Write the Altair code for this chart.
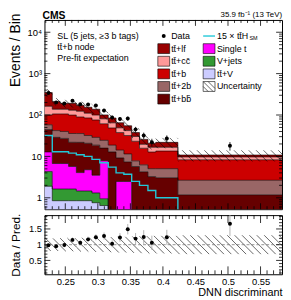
import math
import altair as alt
import numpy as np
import pandas as pd

# ---------------- values ----------------
edges = [0.218, 0.230, 0.242, 0.255, 0.267, 0.279, 0.291, 0.303, 0.316,
         0.328, 0.340, 0.352, 0.364, 0.377, 0.389, 0.423, 0.583]
ttV     = [1.9, 0.85, 0.85, 0.85, 0.85, 0.85, 0.76, 0.65, 0.2, 0.22, 0.22, 0.22, 0.2, 0.2, 0.2, 0.17]
vjets   = [2.4, 0.78, 0.78, 0.78, 0.61, 0.61, 0.55, 0.3, 0.15, 0.16, 0.16, 0.16, 0.1, 0.1, 0.1, 0.05]
singlet = [8.5, 5.1, 5.1, 4.1, 2.6, 3.3, 2.2, 6.9, 0.03, 2.1, 2.1, 0.02, 0.05, 0.05, 0.05, 0.07]
ttbb    = [31.6, 22.1, 20.5, 16.2, 17.8, 16.0, 15.2, 8.0, 12.4, 6.7, 4.9, 5.3, 3.9, 2.9, 2.7, 0.89]
tt2b    = [13.6, 13.2, 12.8, 13.8, 13.8, 11.2, 10.1, 8.6, 5.9, 5.0, 4.1, 2.1, 2.0, 1.8, 2.0, 1.47]
ttb     = [42, 64, 66, 64, 54, 53, 47, 37, 30, 23.5, 20.5, 15.4, 9.5, 7.7, 8.4, 5.65]
ttcc    = [63, 32, 32, 31, 34, 26, 24, 19.5, 16, 11.3, 10, 7.2, 3.9, 3.9, 3.2, 1.4]
ttlf    = [185, 75, 54, 61, 48, 43, 38, 19.5, 20, 16, 13, 7.3, 6.1, 4.1, 5.2, 1.1]
tth15   = [32, 13, 13, 12, 11, 10, 8.5, 7, 5.5, 4, 3.7, 2.5, 2.0, 1.5, 1.0, 0.3]
data    = [341, 202, 190, 221, 182, 180, 170, 128, 87, 80, 82, 45, 32, 22, 27, 18]
unc     = [0.20, 0.20, 0.21, 0.21, 0.22, 0.22, 0.23, 0.23, 0.24, 0.25, 0.25, 0.26, 0.27, 0.28, 0.28, 0.30]

order = ["ttV", "vjets", "singlet", "ttbb", "tt2b", "ttb", "ttcc", "ttlf"]
series = dict(ttV=ttV, vjets=vjets, singlet=singlet, ttbb=ttbb, tt2b=tt2b,
              ttb=ttb, ttcc=ttcc, ttlf=ttlf)
colors = dict(ttV="#ccccff", vjets="#339933", singlet="#ff00ff", ttbb="#660000",
              tt2b="#996666", ttb="#cc0000", ttcc="#ff9999", ttlf="#990000")
CYAN = "#22c8d8"
TT = "tt\u0304"

# ---------------- layout ----------------
W, HM, HR = 241, 192, 60
XMIN, XMAX = 0.218, 0.583
YMIN, YMAX = 0.53, 19800.0
RMIN, RMAX = 0.06, 1.94
FONT = "Liberation Sans"
LFS = 9

nb = len(edges) - 1
centers = [(edges[i] + edges[i + 1]) / 2 for i in range(nb)]

rows = []
cum = np.zeros(nb)
for c in order:
    lo = cum.copy()
    cum = cum + np.array(series[c], dtype=float)
    for i in range(nb + 1):
        j = min(i, nb - 1)
        rows.append(dict(comp=c, x=edges[i], lo=max(lo[j], 1e-3), hi=cum[j]))
df_step = pd.DataFrame(rows)
total = cum.copy()

df_tth = pd.DataFrame(dict(x=edges, v=tth15 + [tth15[-1]]))

data_a = np.array(data, dtype=float)
err = np.sqrt(data_a)
df_pts = pd.DataFrame(dict(x=centers, d=data_a, dlo=data_a - err, dhi=data_a + err,
                           r=data_a / total, rlo=(data_a - err) / total,
                           rhi=(data_a + err) / total))

def xpx(v):
    return (v - XMIN) / (XMAX - XMIN) * W

def xinv(p):
    return XMIN + p / W * (XMAX - XMIN)

LMIN, LMAX = math.log10(YMIN), math.log10(YMAX)

def ypx_m(v):
    return (LMAX - math.log10(v)) / (LMAX - LMIN) * HM

def yinv_m(p):
    return 10 ** (LMAX - p / HM * (LMAX - LMIN))

def ypx_r(v):
    return (RMAX - v) / (RMAX - RMIN) * HR

def yinv_r(p):
    return RMAX - p / HR * (RMAX - RMIN)

def hatch(lo, hi, ypx, yinv, H, s=7.5):
    segs = []
    for i in range(nb):
        xa, xb = xpx(edges[i]), xpx(edges[i + 1])
        yt, yb = max(ypx(hi[i]), 0.0), min(ypx(lo[i]), H)
        kmin = math.ceil((xa - yb) / s)
        kmax = math.floor((xb - yt) / s)
        for k in range(kmin, kmax + 1):
            c = k * s
            xs = max(xa, yt + c)
            xe = min(xb, yb + c)
            if xe - xs > 0.4:
                segs.append(dict(x=xinv(xs), x2=xinv(xe), y=yinv(xs - c), y2=yinv(xe - c)))
    return pd.DataFrame(segs)

unc_a = np.array(unc)
df_hm = hatch(total * (1 - unc_a), total * (1 + unc_a), ypx_m, yinv_m, HM)
df_hr = hatch(1 - unc_a, 1 + unc_a, ypx_r, yinv_r, HR)

xsc = alt.Scale(domain=[XMIN, XMAX], nice=False, zero=False)
ysc = alt.Scale(type="log", domain=[YMIN, YMAX], nice=False)
rsc = alt.Scale(domain=[RMIN, RMAX], nice=False, zero=False)

y_axis = alt.Axis(values=[1, 10, 100, 1000, 10000],
                  labelExpr="datum.value == 1 ? '1' : datum.value == 10 ? '10' : datum.value == 100 ? '10\u00b2' : datum.value == 1000 ? '10\u00b3' : '10\u2074'",
                  title="Events / Bin", titleX=-25, titleY=-7, titleAlign="right",
                  titleAngle=270, titleBaseline="alphabetic", titleFontSize=14,
                  labelFontSize=9.5, labelPadding=3)
r_axis = alt.Axis(values=[0.5, 1, 1.5], format="~g", title="Data / Pred.",
                  titleX=-25, titleY=HR / 2, titleAlign="center", titleAngle=270,
                  titleBaseline="alphabetic", titleFontSize=12,
                  labelFontSize=9.5, labelPadding=3)
x_axis_r = alt.Axis(values=[0.25, 0.3, 0.35, 0.4, 0.45, 0.5, 0.55], format="~g",
                    title="DNN discriminant", titleX=W, titleY=22, titleAlign="right",
                    titleAnchor="end", titleBaseline="alphabetic", titleFontSize=11,
                    labelFontSize=9.5, labelPadding=2)

def XM(f):
    return alt.X(f"{f}:Q", scale=xsc, axis=None)

def YM(f):
    return alt.Y(f"{f}:Q", scale=ysc, axis=y_axis, stack=None)

def XR(f):
    return alt.X(f"{f}:Q", scale=xsc, axis=x_axis_r)

def YR(f):
    return alt.Y(f"{f}:Q", scale=rsc, axis=r_axis, stack=None)

def ticks(X, Y, H, xmaj, xmin_, ymaj, ymin_, lx, ly):
    out = []
    for vals, L in ((xmaj, lx[0]), (xmin_, lx[1])):
        base = alt.Chart(pd.DataFrame({"t": vals})).mark_rule(color="black", strokeWidth=0.8)
        out.append(base.encode(x=X("t"), y=alt.value(H), y2=alt.value(H - L)))
        out.append(base.encode(x=X("t"), y=alt.value(0), y2=alt.value(L)))
    for vals, L in ((ymaj, ly[0]), (ymin_, ly[1])):
        base = alt.Chart(pd.DataFrame({"t": vals})).mark_rule(color="black", strokeWidth=0.8)
        out.append(base.encode(y=Y("t"), x=alt.value(0), x2=alt.value(L)))
        out.append(base.encode(y=Y("t"), x=alt.value(W), x2=alt.value(W - L)))
    return out

xmaj = [0.25, 0.3, 0.35, 0.4, 0.45, 0.5, 0.55]
xmin_ = [round(0.22 + 0.01 * k, 2) for k in range(37)]
xmin_ = [v for v in xmin_ if XMIN <= v <= XMAX and v not in xmaj]
ymaj = [1, 10, 100, 1000, 10000]
ymin_ = [k * 10 ** d for d in range(-1, 5) for k in range(2, 10) if YMIN <= k * 10 ** d <= YMAX]
rmaj = [0.5, 1.0, 1.5]
rmin_ = [round(0.1 * k, 1) for k in range(1, 20)]
rmin_ = [v for v in rmin_ if v not in rmaj]

area = alt.Chart(df_step).mark_area(interpolate="step-after", opacity=1, clip=True).encode(
    x=XM("x"), y=YM("lo"), y2="hi",
    color=alt.Color("comp:N", scale=alt.Scale(domain=order, range=[colors[c] for c in order]),
                    legend=None))
outline = alt.Chart(df_step).mark_line(interpolate="step-after", color="black",
                                       strokeWidth=0.6, clip=True).encode(
    x=XM("x"), y=YM("hi"), detail="comp:N")
tth_line = alt.Chart(df_tth).mark_line(interpolate="step-after", color=CYAN,
                                       strokeWidth=1.4, clip=True).encode(x=XM("x"), y=YM("v"))
hatch_m = alt.Chart(df_hm).mark_rule(color="black", strokeWidth=0.6, clip=True).encode(
    x=XM("x"), x2="x2", y=YM("y"), y2="y2")
ebar_m = alt.Chart(df_pts).mark_rule(color="black", strokeWidth=0.8, clip=True).encode(
    x=XM("x"), y=YM("dlo"), y2="dhi")
pts_m = alt.Chart(df_pts).mark_circle(color="black", size=16, opacity=1, clip=True).encode(
    x=XM("x"), y=YM("d"))

rowy = [16.3, 29.1, 41.9, 54.7, 67.5, 80.3]
leg_box = pd.DataFrame([
    dict(a=115, b=127, c=rowy[1] - 5, d=rowy[1] + 5, col=colors["ttlf"]),
    dict(a=115, b=127, c=rowy[2] - 5, d=rowy[2] + 5, col=colors["ttcc"]),
    dict(a=115, b=127, c=rowy[3] - 5, d=rowy[3] + 5, col=colors["ttb"]),
    dict(a=115, b=127, c=rowy[4] - 5, d=rowy[4] + 5, col=colors["tt2b"]),
    dict(a=115, b=127, c=rowy[5] - 5, d=rowy[5] + 5, col=colors["ttbb"]),
    dict(a=161, b=173, c=rowy[1] - 5, d=rowy[1] + 5, col=colors["singlet"]),
    dict(a=161, b=173, c=rowy[2] - 5, d=rowy[2] + 5, col=colors["vjets"]),
    dict(a=161, b=173, c=rowy[3] - 5, d=rowy[3] + 5, col=colors["ttV"]),
    dict(a=161, b=173, c=rowy[4] - 5, d=rowy[4] + 5, col="#ffffff"),
])
leg_rect = alt.Chart(leg_box).mark_rect(stroke="black", strokeWidth=0.6).encode(
    x=alt.X("a:Q", scale=None), x2="b:Q", y=alt.Y("c:Q", scale=None), y2="d:Q",
    fill=alt.Color("col:N", scale=None))
leg_hatch = alt.Chart(pd.DataFrame([
    dict(a=161, b=171, c=rowy[4] - 5, d=rowy[4] + 5),
    dict(a=166, b=173, c=rowy[4] - 5, d=rowy[4] + 2),
    dict(a=161, b=166, c=rowy[4], d=rowy[4] + 5),
])).mark_rule(color="black", strokeWidth=0.6).encode(
    x=alt.X("a:Q", scale=None), x2="b:Q", y=alt.Y("c:Q", scale=None), y2="d:Q")
leg_line = alt.Chart(pd.DataFrame([dict(a=161, b=173, c=rowy[0])])).mark_rule(
    color=CYAN, strokeWidth=1.4).encode(
    x=alt.X("a:Q", scale=None), x2="b:Q", y=alt.Y("c:Q", scale=None))
leg_dot = alt.Chart(pd.DataFrame([dict(a=121, c=rowy[0])])).mark_circle(
    color="black", size=16, opacity=1).encode(
    x=alt.X("a:Q", scale=None), y=alt.Y("c:Q", scale=None))
leg_txt = pd.DataFrame([
    dict(a=128.5, c=rowy[0], t="Data"),
    dict(a=128.5, c=rowy[1], t=TT + "+lf"),
    dict(a=128.5, c=rowy[2], t=TT + "+cc\u0304"),
    dict(a=128.5, c=rowy[3], t=TT + "+b"),
    dict(a=128.5, c=rowy[4], t=TT + "+2b"),
    dict(a=128.5, c=rowy[5], t=TT + "+bb\u0304"),
    dict(a=175, c=rowy[0], t="15 \u00d7 " + TT + "H"),
    dict(a=175, c=rowy[1], t="Single t"),
    dict(a=175, c=rowy[2], t="V+jets"),
    dict(a=175, c=rowy[3], t=TT + "+V"),
    dict(a=175, c=rowy[4], t="Uncertainty"),
    dict(a=13, c=16.3, t="SL (5 jets, \u22653 b tags)"),
    dict(a=13, c=27.6, t=TT + "+b node"),
    dict(a=13, c=38.9, t="Pre-fit expectation"),
])
leg_text = alt.Chart(leg_txt).mark_text(align="left", baseline="middle", fontSize=LFS,
                                        font=FONT, color="black").encode(
    x=alt.X("a:Q", scale=None), y=alt.Y("c:Q", scale=None), text="t:N")
sm_text = alt.Chart(pd.DataFrame([dict(a=208, c=rowy[0] + 2.5, t="SM")])).mark_text(
    align="left", baseline="middle", fontSize=5.5, font=FONT, color="black").encode(
    x=alt.X("a:Q", scale=None), y=alt.Y("c:Q", scale=None), text="t:N")
head = alt.Chart(pd.DataFrame([dict(a=-2, c=-1, t="CMS")])).mark_text(
    align="left", baseline="alphabetic", fontSize=10.5, fontWeight="bold",
    font=FONT, color="black").encode(
    x=alt.X("a:Q", scale=None), y=alt.Y("c:Q", scale=None), text="t:N")
lumi = alt.Chart(pd.DataFrame([dict(a=W, c=-3, t="35.9 fb\u207b\u00b9 (13 TeV)")])).mark_text(
    align="right", baseline="alphabetic", fontSize=8, font=FONT, color="black").encode(
    x=alt.X("a:Q", scale=None), y=alt.Y("c:Q", scale=None), text="t:N")

main = alt.layer(
    area, outline, tth_line, hatch_m, ebar_m, pts_m,
    *ticks(XM, YM, HM, xmaj, xmin_, ymaj, ymin_, (6, 3), (6, 3)),
    leg_rect, leg_hatch, leg_line, leg_dot, leg_text, sm_text, head, lumi,
).properties(width=W, height=HM)

hatch_r = alt.Chart(df_hr).mark_rule(color="black", strokeWidth=0.6, clip=True).encode(
    x=XR("x"), x2="x2", y=YR("y"), y2="y2")
one = alt.Chart(pd.DataFrame({"o": [1.0]})).mark_rule(
    color="#777777", strokeDash=[3, 2], strokeWidth=0.8).encode(
    y=YR("o"), x=alt.value(0), x2=alt.value(W))
ebar_r = alt.Chart(df_pts).mark_rule(color="#aaaaaa", strokeWidth=0.9, clip=True).encode(
    x=XR("x"), y=YR("rlo"), y2="rhi")
pts_r = alt.Chart(df_pts).mark_circle(color="black", size=16, opacity=1, clip=True).encode(
    x=XR("x"), y=YR("r"))

ratio = alt.layer(
    hatch_r, one, ebar_r, pts_r,
    *ticks(XR, YR, HR, xmaj, xmin_, rmaj, rmin_, (8, 4), (6, 3)),
).properties(width=W, height=HR)

chart = alt.vconcat(main, ratio, spacing=2).properties(padding=0).configure_view(
    stroke="black", strokeWidth=1
).configure_axis(
    ticks=False, domain=False, grid=False, labelFont=FONT, titleFont=FONT,
    labelColor="black", titleColor="black", titleFontWeight="normal"
).configure_text(font=FONT)

chart.save("out.html", embed_options={"renderer": "svg", "actions": False})
